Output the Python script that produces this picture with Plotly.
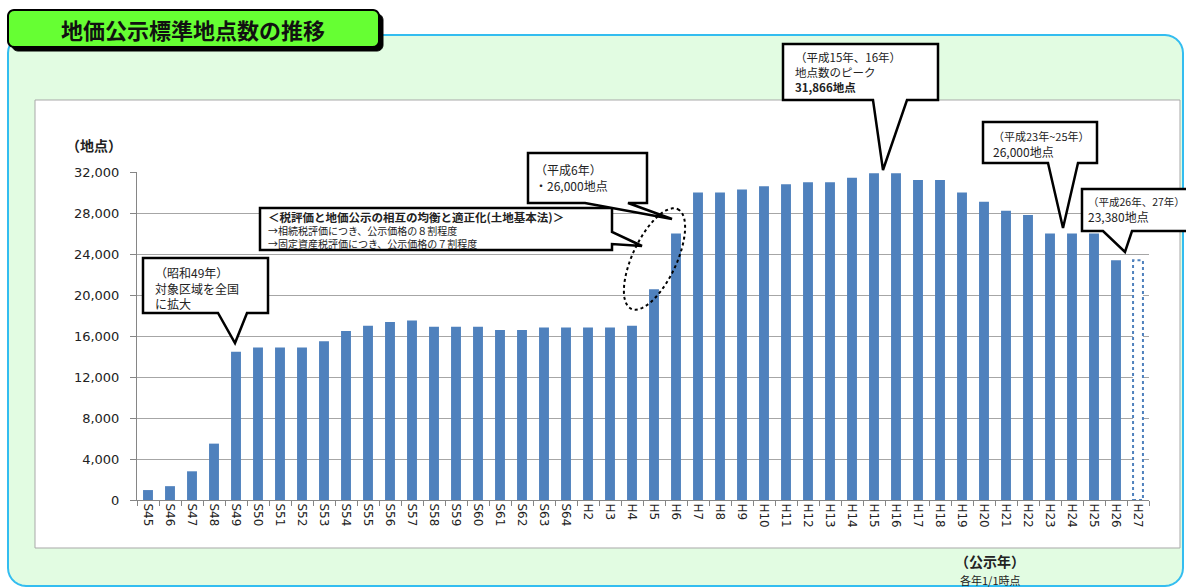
import numpy as np
import plotly.graph_objects as go

# ---------------- data ----------------
categories = ["S45", "S46", "S47", "S48", "S49", "S50", "S51", "S52", "S53", "S54",
              "S55", "S56", "S57", "S58", "S59", "S60", "S61", "S62", "S63", "S64",
              "H2", "H3", "H4", "H5", "H6", "H7", "H8", "H9", "H10", "H11",
              "H12", "H13", "H14", "H15", "H16", "H17", "H18", "H19", "H20", "H21",
              "H22", "H23", "H24", "H25", "H26", "H27"]
points = [970, 1350, 2800, 5500, 14470, 14890, 14890, 14890, 15480, 16490,
          17000, 17370, 17520, 16910, 16910, 16910, 16590, 16590, 16840, 16840,
          16840, 16840, 17000, 20555, 26000, 30000, 30000, 30300, 30600, 30800,
          31000, 31000, 31450, 31866, 31866, 31230, 31230, 30000, 29100, 28227,
          27804, 26000, 26000, 26000, 23380, 23380]
estimated_last = "H27"          # drawn as dotted outline bar
y_ticks = [0, 4000, 8000, 12000, 16000, 20000, 24000, 28000, 32000]

BAR = "#4f81bd"
JP = "Noto Sans CJK JP"
NUM = "DejaVu Sans"

# ---------------- geometry helpers (page pixels -> paper) ----------------
W, H = 1186, 588
L, R, T, B = 137, 1149, 172, 500


def px(x):
    return (x - L) / (R - L)


def py(y):
    return (B - y) / (B - T)


def poly(pts, close=True):
    s = "M " + " L ".join(f"{px(x):.5f},{py(y):.5f}" for x, y in pts)
    return s + (" Z" if close else "")


def rrect(x0, y0, x1, y1, r):
    pts = []
    for cx, cy, a0 in [(x1 - r, y0 + r, -90), (x1 - r, y1 - r, 0),
                       (x0 + r, y1 - r, 90), (x0 + r, y0 + r, 180)]:
        for a in np.linspace(a0, a0 + 90, 8):
            t = np.radians(a)
            pts.append((cx + r * np.cos(t), cy + r * np.sin(t)))
    return poly(pts)


shapes = []
annotations = []


def add_shape(path, fill, line, width, layer="above", dash="solid"):
    shapes.append(dict(type="path", xref="paper", yref="paper", path=path,
                       fillcolor=fill, line=dict(color=line, width=width, dash=dash),
                       layer=layer))


def add_text(x, y, text, size=12, color="#222", anchor="left", family=JP, bold=False):
    if bold:
        text = f"<b>{text}</b>"
    annotations.append(dict(xref="paper", yref="paper", x=px(x), y=py(y), text=text,
                            showarrow=False, xanchor=anchor, yanchor="middle",
                            align="left" if anchor == "left" else "center",
                            font=dict(family=family, size=size, color=color)))


def sz(text, s):
    return f"<span style='font-size:{s}px'>{text}</span>"


# ---------------- background panels ----------------
add_shape(rrect(8, 35, 1183, 586, 18), "#e2fce2", "#33bdf0", 2, layer="below")
add_shape(poly([(35, 100), (1180, 100), (1180, 548), (35, 548)]), "white", "#a9a9a9", 1, layer="below")
add_shape(rrect(12, 14, 383, 51, 6), "black", "black", 1, layer="below")
add_shape(rrect(8, 10, 379, 47, 6), "#66ff33", "black", 2, layer="below")
add_text(193, 29, "地価公示標準地点数の推移", size=22, color="#111", anchor="center", bold=True)

# axis titles
add_text(94, 145, "（地点）", size=14, anchor="center", bold=True)
add_text(990, 561, "（公示年）", size=14, anchor="center", bold=True)
add_text(990, 580, "各年1/1時点", size=11, anchor="center")

# ---------------- callouts ----------------
CL = dict(fill="white", line="black", width=2.5)
# S49
add_shape(poly([(143, 258), (268, 258), (268, 313), (247, 313), (235, 343), (218, 313), (143, 313)]), **CL)
add_text(153, 288, "（昭和49年）<br>対象区域を全国<br>に拡大", 12)
# land basic law box
add_shape(poly([(260, 208), (612, 208), (612, 232), (642, 246), (612, 244), (612, 250), (260, 250)]), **CL)
add_text(266, 230,
         sz("<b>＜税評価と地価公示の相互の均衡と適正化(土地基本法)＞</b>", 11.5)
         + "<br>→相続税評価につき、公示価格の８割程度"
         + "<br>→固定資産税評価につき、公示価格の７割程度", 10)
# H6
add_shape(poly([(528, 153), (647, 153), (647, 203), (628, 203), (672, 219), (585, 203), (528, 203)]), **CL)
add_text(533, 177, "（平成6年）<br>・26,000地点", 12)
# peak
add_shape(poly([(783, 44), (938, 44), (938, 100), (907, 100), (883, 170), (873, 100), (783, 100)]), **CL)
add_text(793, 72, "（平成15年、16年）<br>地点数のピーク<br><b>31,866地点</b>", 11.5)
# H23-25
add_shape(poly([(983, 122), (1097, 122), (1097, 163), (1078, 163), (1063, 228), (1048, 163), (983, 163)]), **CL)
add_text(991, 144, sz("（平成23年~25年）", 11) + "<br>26,000地点", 12)
# H26-27
add_shape(poly([(1082, 189), (1200, 189), (1200, 231), (1132, 231), (1125, 252), (1103, 231), (1082, 231)]), **CL)
add_text(1086, 209, sz("（平成26年、27年）", 10.5) + "<br>23,380地点", 12)

# dotted ellipse around H5/H6
cx, cy, a, b, th = 654.5, 259, 55, 22, np.radians(25)
u = (np.sin(th), -np.cos(th))
v = (np.cos(th), np.sin(th))
tt = np.linspace(0, 2 * np.pi, 80)
ell = [(cx + a * np.cos(t) * u[0] + b * np.sin(t) * v[0],
        cy + a * np.cos(t) * u[1] + b * np.sin(t) * v[1]) for t in tt]
add_shape(poly(ell), "rgba(0,0,0,0)", "black", 2, dash="dot")

# ---------------- bars ----------------
colors = [BAR if c != estimated_last else "rgba(0,0,0,0)" for c in categories]
fig = go.Figure(go.Bar(x=categories, y=points, marker=dict(color=colors, line=dict(width=0)),
                       hovertemplate="%{x}: %{y:,}<extra></extra>"))

bargap = 0.55
i_last = categories.index(estimated_last)
shapes.append(dict(type="rect", xref="x", yref="y",
                   x0=i_last - (1 - bargap) / 2, x1=i_last + (1 - bargap) / 2,
                   y0=0, y1=points[i_last], fillcolor="white",
                   line=dict(color=BAR, width=2, dash="dot"), layer="above"))

fig.update_layout(
    width=W, height=H,
    margin=dict(l=L, r=W - R, t=T, b=H - B),
    paper_bgcolor="white", plot_bgcolor="rgba(0,0,0,0)",
    bargap=bargap, showlegend=False,
    shapes=shapes, annotations=annotations,
    xaxis=dict(type="category", range=[-0.5, len(categories) - 0.5],
               showline=True, linecolor="#868686", linewidth=1,
               ticks="outside", tickson="boundaries", ticklen=5, tickcolor="#868686",
               tickangle=90, tickfont=dict(family=NUM, size=12, color="#222"),
               showgrid=False),
    yaxis=dict(range=[0, 32000], tickvals=y_ticks, tickformat=",",
               showgrid=True, gridcolor="#a6a6a6", gridwidth=1,
               showline=True, linecolor="#868686", linewidth=1, zeroline=False,
               ticks="outside", ticklen=6, tickcolor="#868686", ticklabelstandoff=8,
               tickfont=dict(family=NUM, size=13, color="#222")),
)

fig.write_html("out.html")
